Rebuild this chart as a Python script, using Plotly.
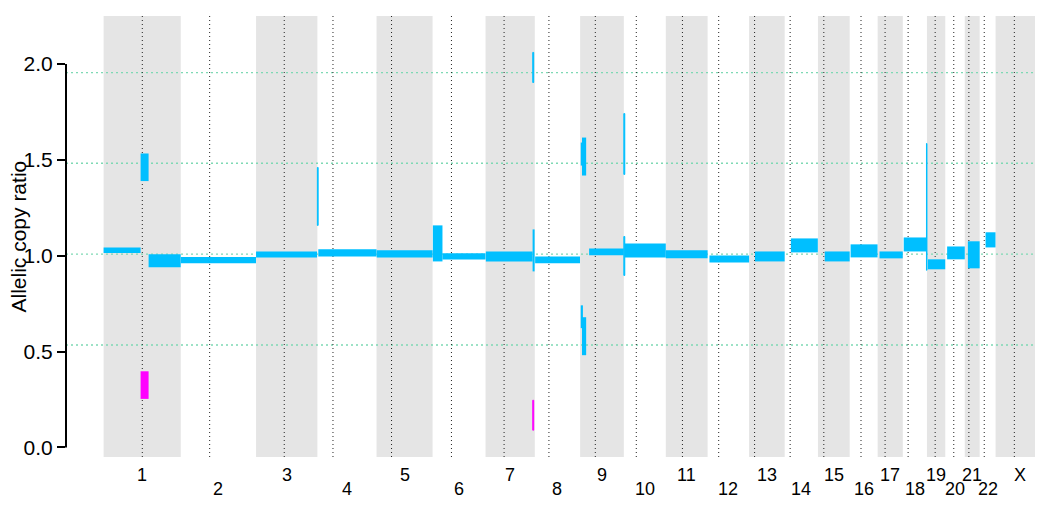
import plotly.graph_objects as go

# ---- data ----
chrom_names = ['1', '2', '3', '4', '5', '6', '7', '8', '9', '10', '11', '12',
               '13', '14', '15', '16', '17', '18', '19', '20', '21', '22', 'X']
chrom_len = [249.25, 243.20, 198.02, 191.15, 180.92, 171.12, 159.14, 146.36,
             141.21, 135.53, 135.01, 133.85, 115.17, 107.35, 102.53, 90.35,
             81.20, 78.08, 59.13, 63.03, 48.13, 51.30, 155.27]
centromere = [125.0, 93.3, 91.0, 50.4, 48.4, 61.0, 59.9, 45.6, 49.0, 40.2,
              53.7, 35.8, 17.9, 17.6, 19.0, 36.6, 24.0, 17.2, 26.5, 27.5,
              13.2, 14.7, 60.6]

# segments: chromosome, start (Mb), end (Mb), low, high, kind
seg_chrom = ['1', '1', '1', '1', '2', '3', '4', '4', '5', '6', '6', '7', '7', '7', '7',
             '8', '9', '9', '9', '9', '9', '10', '10', '10', '11', '12', '13', '14',
             '15', '16', '17', '18', '18', '19', '20', '21', '22']
seg_start = [0.0, 119.5, 119.5, 145.3, 0.5, 0.0, 0.0, 3.0, 0.5, 1.0, 32.0, 1.0, 152.0, 152.5, 152.5,
             1.0, 2.0, 2.0, 6.0, 6.0, 29.0, 0.0, 0.0, 3.0, 0.0, 6.0, 19.0, 20.0,
             22.0, 3.0, 6.0, 3.0, 76.5, 3.0, 6.0, 10.0, 19.0]
seg_end = [119.5, 145.3, 145.3, 249.0, 243.0, 197.0, 2.5, 191.0, 181.0, 32.0, 171.0, 152.0, 158.5, 155.5, 155.5,
           146.0, 9.0, 9.0, 19.5, 19.5, 141.0, 3.0, 3.0, 135.5, 135.0, 134.0, 115.0, 107.0,
           102.5, 90.0, 81.0, 76.5, 78.0, 59.0, 63.0, 48.0, 51.0]
seg_low = [1.014, 1.389, 0.253, 0.939, 0.960, 0.991, 1.158, 0.996, 0.991, 0.970, 0.980, 0.970, 0.918, 1.903, 0.090,
           0.960, 1.470, 0.622, 1.418, 0.481, 1.002, 1.424, 0.897, 0.991, 0.986, 0.965, 0.970, 1.017,
           0.970, 0.991, 0.986, 1.022, 0.924, 0.929, 0.981, 0.934, 1.043]
seg_high = [1.043, 1.533, 0.397, 1.007, 0.993, 1.022, 1.460, 1.033, 1.028, 1.158, 1.012, 1.022, 1.137, 2.060, 0.246,
            0.996, 1.590, 0.741, 1.616, 0.679, 1.038, 1.741, 1.100, 1.064, 1.028, 1.001, 1.022, 1.090,
            1.022, 1.059, 1.022, 1.095, 1.585, 0.981, 1.048, 1.075, 1.122]
seg_kind = ['b', 'b', 'm', 'b', 'b', 'b', 'b', 'b', 'b', 'b', 'b', 'b', 'b', 'b', 'm',
            'b', 'b', 'b', 'b', 'b', 'b', 'b', 'b', 'b', 'b', 'b', 'b', 'b',
            'b', 'b', 'b', 'b', 'b', 'b', 'b', 'b', 'b']

ref_levels = [0.534, 1.008, 1.482, 1.955]
y_ticks = [0.0, 0.5, 1.0, 1.5, 2.0]
y_ticktext = ['0.0', '0.5', '1.0', '1.5', '2.0']
y_title = 'Allelic copy ratio'

# ---- layout helpers ----
offsets = {}
acc = 0.0
for n, L in zip(chrom_names, chrom_len):
    offsets[n] = acc
    acc += L
total = acc

# page body has an 8px default margin; figure sized to fit the 1043x515 window
W, H = 1035, 507
ml, mr, mt, mb = 58, 0, 8, 58
x_min = -0.04 * total
x_max = x_min + (W - ml - mr) / 0.3096
px_per_mb = (W - ml - mr) / (x_max - x_min)

colors = {'b': '#00BFFF', 'm': '#FF00FF'}
FONT = 'Liberation Sans, Arial, sans-serif'

shapes = []
# grey bands for alternate chromosomes
for i, n in enumerate(chrom_names):
    if i % 2 == 0:
        shapes.append(dict(type='rect', xref='x', yref='paper',
                           x0=offsets[n], x1=offsets[n] + chrom_len[i], y0=0, y1=1,
                           fillcolor='#E5E5E5', line=dict(width=0), layer='below'))
# reference levels
for lv in ref_levels:
    shapes.append(dict(type='line', xref='paper', yref='y', x0=0, x1=1, y0=lv, y1=lv,
                       line=dict(color='#7ED9B4', width=1.3, dash='2px,3px'), layer='below'))
# centromeres
for n, c in zip(chrom_names, centromere):
    shapes.append(dict(type='line', xref='x', yref='paper', x0=offsets[n] + c, x1=offsets[n] + c,
                       y0=0, y1=1, line=dict(color='#222222', width=1, dash='1px,3px'),
                       layer='below'))
# segments
for ch, s, e, lo, hi, k in zip(seg_chrom, seg_start, seg_end, seg_low, seg_high, seg_kind):
    x0 = offsets[ch] + s
    x1 = offsets[ch] + e
    thin = (x1 - x0) * px_per_mb < 2
    shapes.append(dict(type='rect', xref='x', yref='y', x0=x0, x1=x1, y0=lo, y1=hi,
                       fillcolor=colors[k],
                       line=dict(width=1 if thin else 0, color=colors[k]),
                       layer='above'))
# y axis line (only spans the tick range)
shapes.append(dict(type='line', xref='paper', yref='y', x0=0, x1=0, y0=y_ticks[0], y1=y_ticks[-1],
                   line=dict(color='black', width=2), layer='above'))

annotations = []
for i, n in enumerate(chrom_names):
    annotations.append(dict(x=offsets[n] + chrom_len[i] / 2, xref='x', y=0, yref='paper',
                            text=n, showarrow=False, xanchor='center', yanchor='middle',
                            yshift=-18 if i % 2 == 0 else -32,
                            font=dict(family=FONT, size=18, color='black')))
annotations.append(dict(x=(10 - ml) / (W - ml - mr), xref='paper', y=0.5,
                        yref='paper', text=y_title, textangle=-90, showarrow=False,
                        xanchor='center', yanchor='middle',
                        font=dict(family=FONT, size=21, color='black')))

fig = go.Figure()
fig.add_trace(go.Scatter(x=[0], y=[1], mode='markers', marker=dict(opacity=0),
                         hoverinfo='skip', showlegend=False))
fig.update_layout(
    width=W, height=H,
    margin=dict(l=ml, r=mr, t=mt, b=mb, pad=0),
    paper_bgcolor='white', plot_bgcolor='white',
    showlegend=False,
    xaxis=dict(range=[x_min, x_max], visible=False, showgrid=False, zeroline=False),
    yaxis=dict(range=[-0.05, 2.25], tickvals=y_ticks, ticktext=y_ticktext,
               ticks='outside', ticklen=8, tickwidth=2, tickcolor='black',
               showline=False, showgrid=False, zeroline=False, automargin=False,
               tickfont=dict(family=FONT, size=21, color='black')),
    shapes=shapes,
    annotations=annotations,
)
fig.write_html('out.html')
